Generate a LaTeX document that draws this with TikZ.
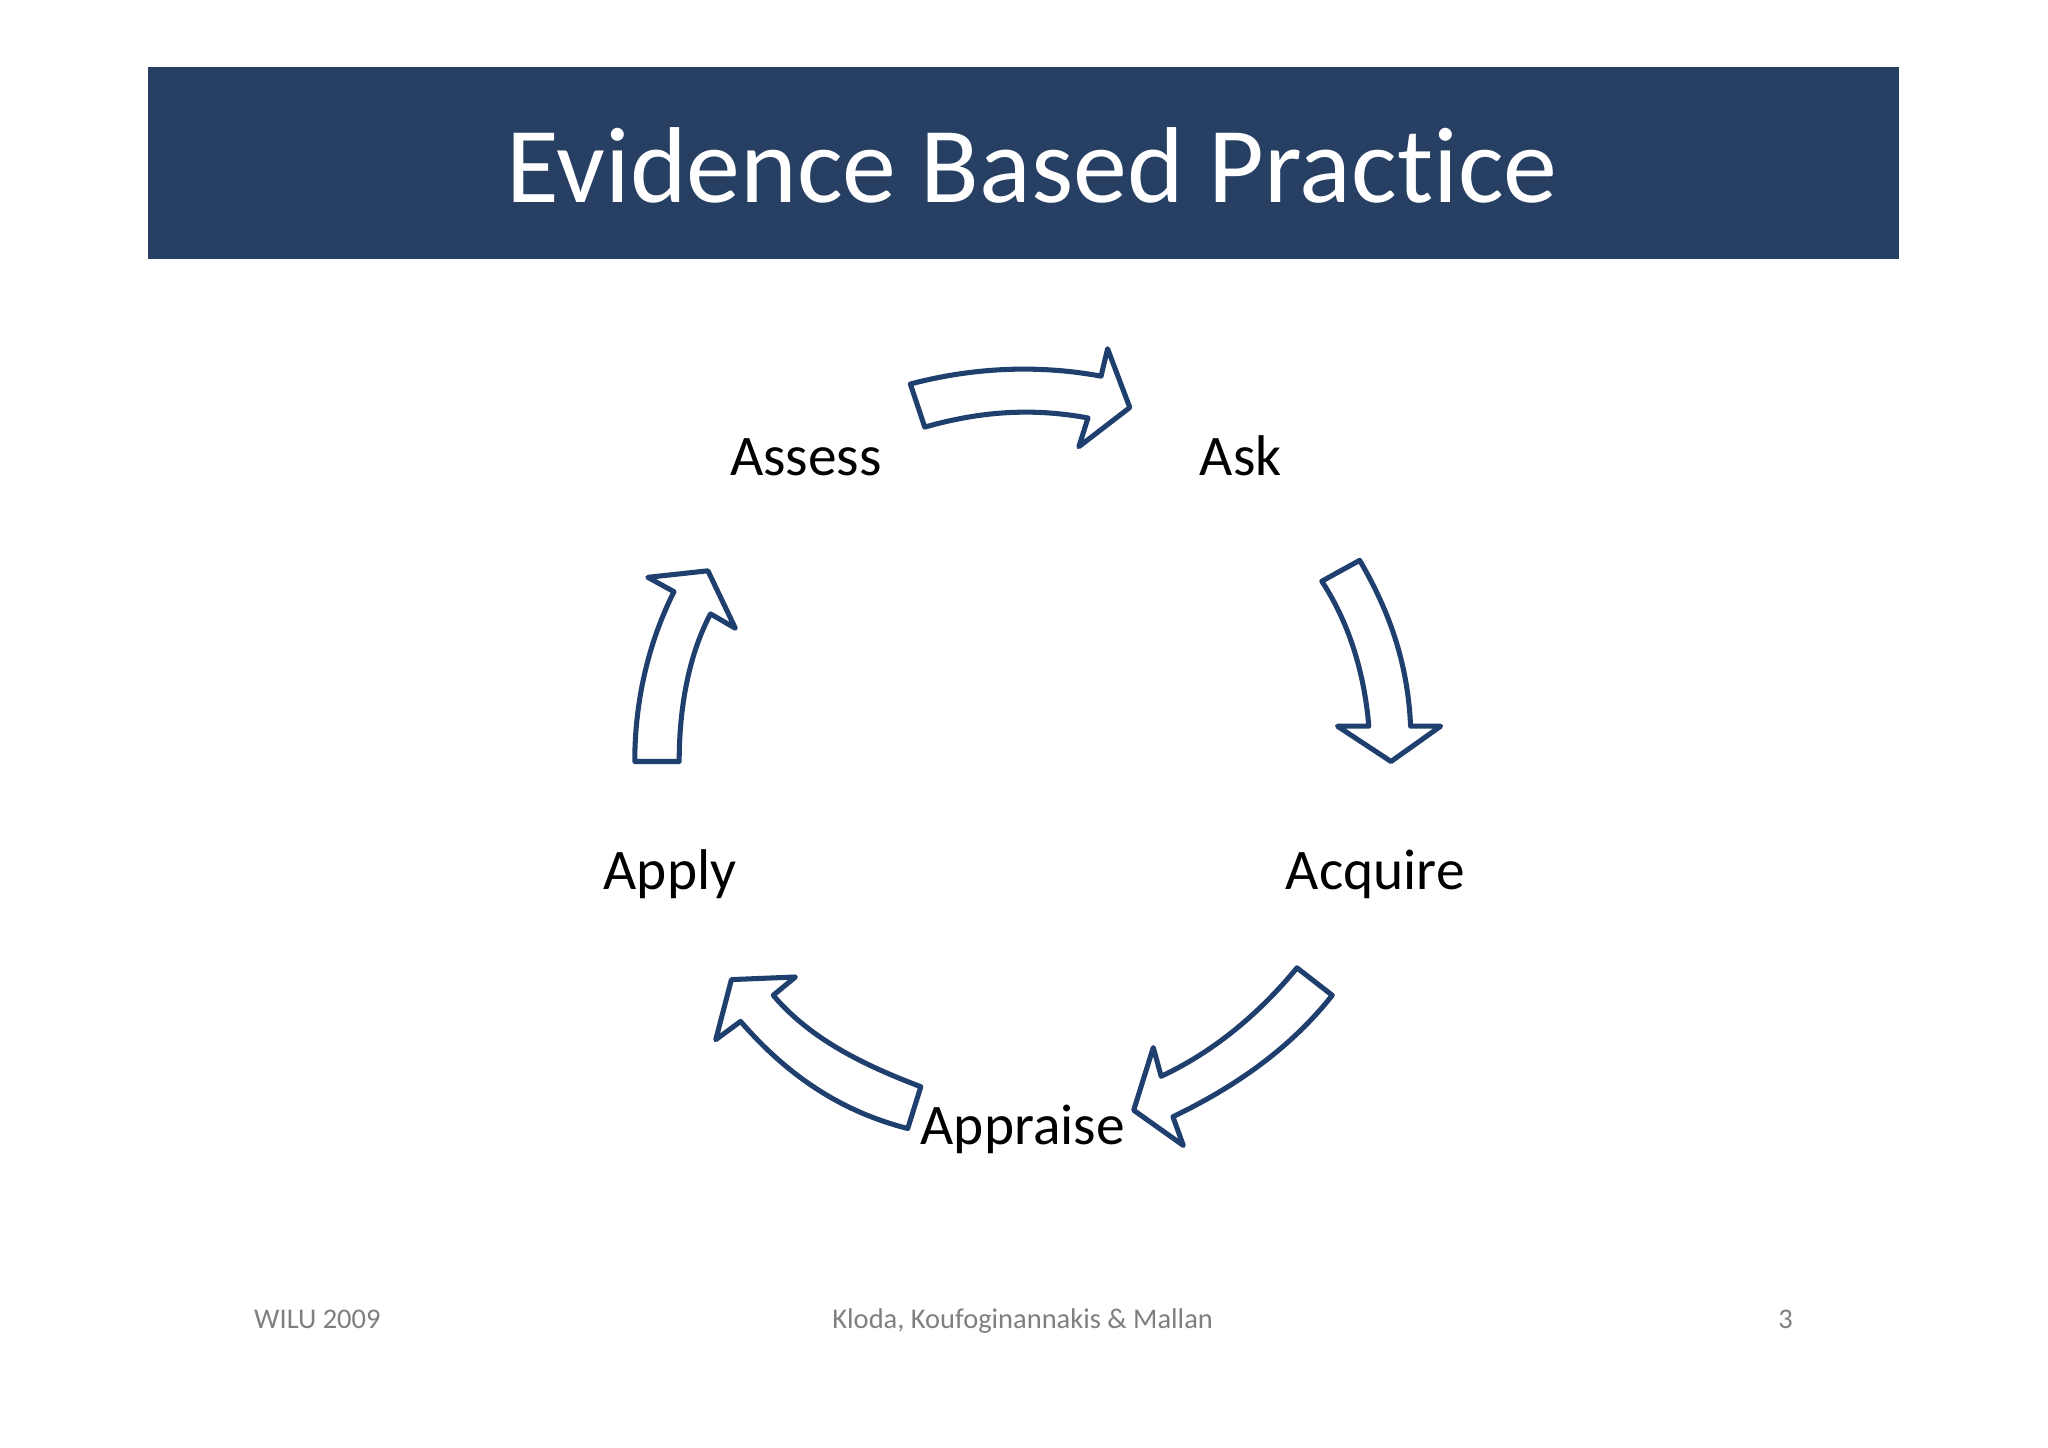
\documentclass[tikz,border=0pt]{standalone}
\usepackage{fontspec}
\setmainfont[Ligatures=NoCommon]{Carlito}
\definecolor{barblue}{HTML}{263F63}
\definecolor{arrowblue}{HTML}{1F3F6E}
\definecolor{footgray}{HTML}{7F7F7F}
\begin{document}
\begin{tikzpicture}[x=0.01cm,y=-0.01cm,
  blockarrow/.style={draw=arrowblue,line width=1.1pt,fill=white,line join=round},
  lbl/.style={font=\fontsize{12.5}{14}\selectfont,text=black,anchor=base},
  foot/.style={font=\fontsize{6.2}{7}\selectfont,text=footgray,anchor=base}]
\useasboundingbox (0,0) rectangle (1568,1108);
\fill[white] (0,0) rectangle (1568,1108);
\fill[barblue] (113,51) rectangle (1454,198);
\node[font=\fontsize{23.5}{28}\selectfont,text=white] (title) at (790,127) {Evidence Based Practice};
\node[lbl] (assess) at (617,364) {Assess};
\node[lbl] (ask) at (950,364) {Ask};
\node[lbl] (acquire) at (1053,681) {Acquire};
\node[lbl] (apply) at (513,681) {Apply};
\node[lbl] (appraise) at (783,876) {Appraise};
\draw[blockarrow] (697,294) .. controls (750,280) and (800,280) .. (843,288) -- (848,267) -- (865,312) -- (826,342) -- (833,320) .. controls (790,312) and (750,315) .. (708,327) -- cycle;
\draw[blockarrow] (1012,445) -- (1041,429) .. controls (1065,470) and (1078,510) .. (1080,556) -- (1103,556) -- (1065,583) -- (1024,556) -- (1048,556) .. controls (1045,520) and (1035,480) .. (1012,445) -- cycle;
\draw[blockarrow] (993,741) -- (1020,762) .. controls (990,800) and (950,830) .. (898,855) -- (906,877) -- (868,850) -- (883,802) -- (889,824) .. controls (930,805) and (965,775) .. (993,741) -- cycle;
\draw[blockarrow] (705,832) -- (695,864) .. controls (640,850) and (600,820) .. (567,782) -- (548,796) -- (560,750) -- (609,748) -- (592,762) .. controls (620,795) and (660,815) .. (705,832) -- cycle;
\draw[blockarrow] (486,583) -- (520,583) .. controls (520,540) and (528,500) .. (544,470) -- (563,481) -- (542,437) -- (496,442) -- (516,453) .. controls (495,495) and (486,540) .. (486,583) -- cycle;
\node[foot] (f1) at (243,1017) {WILU 2009};
\node[foot] (f2) at (783,1017) {Kloda, Koufoginannakis \& Mallan};
\node[foot] (f3) at (1367,1017) {3};
\end{tikzpicture}
\end{document}
